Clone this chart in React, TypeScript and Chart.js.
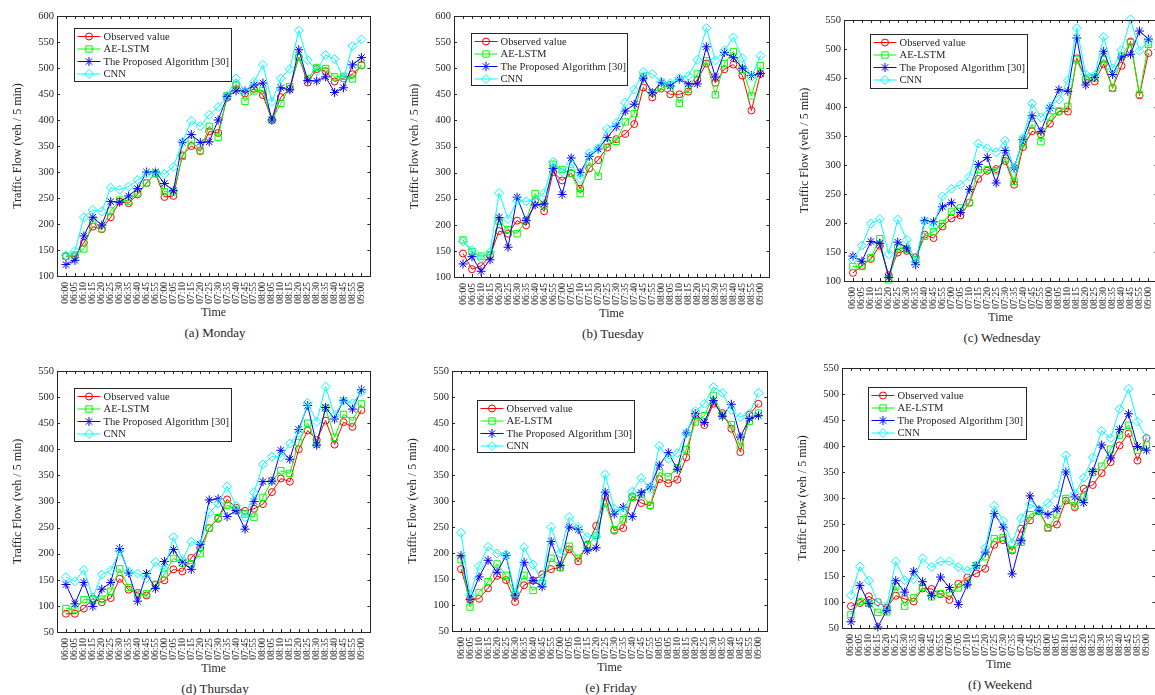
import React, { useEffect, useRef } from 'react';
import { Chart, registerables } from 'chart.js';

Chart.register(...registerables);

// ---------------- data ----------------
const seriesNames = ['Observed value', 'AE-LSTM', 'The Proposed Algorithm [30]', 'CNN'];

const timeLabels = ['06:00','06:05','06:10','06:15','06:20','06:25','06:30','06:35','06:40','06:45','06:55','07:00','07:05','07:10','07:15','07:20','07:25','07:30','07:35','07:40','07:45','07:55','08:00','08:05','08:10','08:15','08:20','08:25','08:30','08:35','08:40','08:45','08:55','09:00'];
const timeLabelsFriday = ['06:00','06:05','06:10','06:15','06:20','06:25','06:30','06:35','06:40','06:45','06:55','07:00','07:05','07:10','07:15','07:20','07:25','07:30','07:35','07:40','07:45','07:55','08:05','08:05','08:10','08:15','08:20','08:25','08:30','08:35','08:40','08:45','08:55','09:00'];

const mondayObserved = [138,138,164,195,190,213,243,240,257,279,297,252,254,332,350,340,378,375,443,468,451,460,448,400,444,460,521,472,498,494,474,480,488,505];
const mondayAE = [138,140,152,207,191,225,246,244,260,279,297,262,262,330,360,341,388,367,447,467,436,456,457,400,432,464,520,480,501,499,483,484,479,506];
const mondayProposed = [122,130,177,213,198,243,242,254,268,300,300,278,264,357,372,357,358,400,445,456,456,467,471,400,462,458,535,476,475,483,453,462,506,520];
const mondayCNN = [140,148,213,227,224,270,266,272,285,297,298,296,310,358,398,388,410,425,446,480,455,473,506,435,480,498,572,515,494,525,517,480,542,555];

const tuesdayObserved = [145,115,121,141,188,183,208,199,245,226,301,285,299,269,308,324,348,364,374,393,463,444,461,450,450,455,478,509,472,498,507,486,419,489];
const tuesdayAE = [171,148,140,143,207,191,183,208,260,238,316,306,298,260,320,293,355,360,397,413,484,453,462,468,433,460,489,514,449,509,532,498,447,505];
const tuesdayProposed = [125,139,111,133,214,157,253,208,238,240,308,258,328,300,331,345,367,388,418,431,481,453,473,466,479,470,470,541,483,530,520,500,486,490];
const tuesdayCNN = [168,152,136,148,261,211,246,245,248,261,321,301,317,288,337,347,384,395,434,459,493,489,474,471,481,485,516,577,515,534,559,519,483,524];

const wednesdayObserved = [114,126,138,161,110,149,152,141,180,174,194,208,213,235,276,290,293,307,266,331,358,353,371,392,392,484,448,444,474,433,471,513,420,493];
const wednesdayAE = [125,125,140,173,102,157,155,137,177,185,199,220,226,235,292,292,290,311,272,337,370,340,383,393,401,481,446,450,482,432,488,511,422,508];
const wednesdayProposed = [143,134,168,165,106,167,157,128,204,202,228,235,218,258,301,313,269,325,295,344,385,358,398,430,427,519,438,451,496,456,486,491,531,517];
const wednesdayCNN = [137,161,199,207,146,206,171,133,204,193,246,259,266,280,337,329,322,342,293,347,406,382,401,413,446,536,456,455,521,466,498,551,497,513];

const thursdayObserved = [85,85,95,114,107,115,152,131,125,120,141,149,170,166,192,211,249,267,304,288,282,286,295,318,344,338,400,436,418,455,409,452,443,475];
const thursdayAE = [95,93,112,112,113,128,171,135,122,123,140,161,191,182,181,200,249,269,293,283,276,270,308,340,359,354,413,450,410,479,423,467,455,487];
const thursdayProposed = [141,104,145,99,132,145,210,163,109,162,133,185,208,183,170,218,303,305,271,283,247,300,338,339,398,381,438,484,408,480,458,494,477,514];
const thursdayCNN = [155,147,169,116,160,168,205,166,162,153,184,170,232,188,223,218,278,296,329,292,270,317,371,386,385,411,432,489,453,520,465,493,488,510];

const fridayObserved = [169,111,112,132,156,148,106,138,147,159,169,172,207,184,216,252,309,243,248,309,296,291,342,334,341,384,464,446,487,469,439,394,466,487];
const fridayAE = [187,96,124,145,179,157,120,157,128,141,190,172,213,190,214,234,296,245,264,307,313,292,355,347,364,399,452,464,503,465,447,405,453,469];
const fridayProposed = [195,111,154,186,163,195,118,182,147,135,222,176,250,245,204,210,317,275,288,270,316,327,369,393,361,431,468,451,493,463,486,423,459,464];
const fridayCNN = [239,119,175,212,199,197,123,211,178,145,250,199,269,250,231,231,351,285,280,318,344,323,406,381,392,430,473,487,519,508,475,461,468,508];

const weekendObserved = [92,98,111,100,89,112,106,101,126,125,115,104,135,147,155,164,210,219,199,241,257,276,243,249,295,282,318,325,348,369,401,424,372,415];
const weekendAE = [76,101,98,80,81,130,92,108,128,110,116,118,127,137,170,187,222,224,201,215,268,274,242,268,299,285,302,349,361,394,421,440,392,402];
const weekendProposed = [62,132,97,52,84,141,119,159,139,112,148,128,95,133,170,196,270,244,154,218,304,276,268,279,350,302,291,351,402,377,432,462,399,392];
const weekendCNN = [113,168,141,99,92,178,142,144,184,167,178,178,167,160,170,204,285,256,213,261,288,278,290,309,382,308,339,378,429,415,471,510,447,416];

const yTickStep = 50;

// ---------------- styles / layout ----------------
const FONT = '"Liberation Serif", "Times New Roman", serif';
const TEXT = '#262626';
const seriesColors = ['#ff0000', '#00ff00', '#0000ff', '#00ffff'];
const seriesMarkers = ['circle', 'rect', 'star', 'rectRot'];
const markerRadius = [3.5, 4.5, 4.5, 4.5];

const Y_AXIS_W = 57;
const X_AXIS_H = 44;
const PAD_T = 10;
const PAD_R = 6;

type PanelDef = {
  caption: string;
  labels: string[];
  series: number[][];
  yMin: number;
  yMax: number;
  plot: { l: number; t: number; r: number; b: number };
  legend: { dx: number; dy: number; w: number; h: number };
};

const panels: PanelDef[] = [
  { caption: '(a) Monday', labels: timeLabels, series: [mondayObserved, mondayAE, mondayProposed, mondayCNN], yMin: 100, yMax: 600,
    plot: { l: 57, t: 16, r: 373, b: 276 }, legend: { dx: 17, dy: 12, w: 157, h: 53 } },
  { caption: '(b) Tuesday', labels: timeLabels, series: [tuesdayObserved, tuesdayAE, tuesdayProposed, tuesdayCNN], yMin: 100, yMax: 600,
    plot: { l: 454, t: 16, r: 772, b: 277 }, legend: { dx: 17, dy: 17, w: 156, h: 52 } },
  { caption: '(c) Wednesday', labels: timeLabels, series: [wednesdayObserved, wednesdayAE, wednesdayProposed, wednesdayCNN], yMin: 100, yMax: 550,
    plot: { l: 844, t: 20, r: 1160, b: 281 }, legend: { dx: 26, dy: 14, w: 157, h: 54 } },
  { caption: '(d) Thursday', labels: timeLabels, series: [thursdayObserved, thursdayAE, thursdayProposed, thursdayCNN], yMin: 50, yMax: 550,
    plot: { l: 57, t: 371, r: 373, b: 632 }, legend: { dx: 17, dy: 17, w: 157, h: 53 } },
  { caption: '(e) Friday', labels: timeLabelsFriday, series: [fridayObserved, fridayAE, fridayProposed, fridayCNN], yMin: 50, yMax: 550,
    plot: { l: 452, t: 371, r: 770, b: 631 }, legend: { dx: 25, dy: 29, w: 157, h: 52 } },
  { caption: '(f) Weekend', labels: timeLabels, series: [weekendObserved, weekendAE, weekendProposed, weekendCNN], yMin: 50, yMax: 550,
    plot: { l: 842, t: 368, r: 1158, b: 628 }, legend: { dx: 26, dy: 19, w: 158, h: 52 } },
];

function drawMarker(ctx: CanvasRenderingContext2D, style: string, x: number, y: number, r: number) {
  ctx.beginPath();
  if (style === 'circle') {
    ctx.arc(x, y, r, 0, Math.PI * 2);
  } else if (style === 'rect') {
    const s = r * Math.SQRT1_2;
    ctx.rect(x - s, y - s, 2 * s, 2 * s);
  } else if (style === 'rectRot') {
    ctx.moveTo(x, y - r);
    ctx.lineTo(x + r, y);
    ctx.lineTo(x, y + r);
    ctx.lineTo(x - r, y);
    ctx.closePath();
  } else if (style === 'star') {
    for (let k = 0; k < 4; k++) {
      const a = (k * Math.PI) / 4;
      ctx.moveTo(x - Math.cos(a) * r, y - Math.sin(a) * r);
      ctx.lineTo(x + Math.cos(a) * r, y + Math.sin(a) * r);
    }
  }
  ctx.stroke();
}

function makeFramePlugin(p: PanelDef) {
  return {
    id: 'frameLegend',
    afterDraw(chart: any) {
      const ctx: CanvasRenderingContext2D = chart.ctx;
      const { left, right, top, bottom } = chart.chartArea;
      const xs = chart.scales.x;
      const ys = chart.scales.y;
      ctx.save();
      ctx.strokeStyle = TEXT;
      ctx.lineWidth = 1;
      ctx.strokeRect(Math.round(left) + 0.5, Math.round(top) + 0.5, Math.round(right - left), Math.round(bottom - top));
      ctx.beginPath();
      const tl = 3;
      p.labels.forEach((_, i) => {
        const px = Math.round(xs.getPixelForValue(i + 1)) + 0.5;
        ctx.moveTo(px, bottom);
        ctx.lineTo(px, bottom - tl);
        ctx.moveTo(px, top);
        ctx.lineTo(px, top + tl);
      });
      for (let v = p.yMin; v <= p.yMax; v += yTickStep) {
        const py = Math.round(ys.getPixelForValue(v)) + 0.5;
        ctx.moveTo(left, py);
        ctx.lineTo(left + tl, py);
        ctx.moveTo(right, py);
        ctx.lineTo(right - tl, py);
      }
      ctx.stroke();

      // legend
      const lx = Math.round(left + p.legend.dx) + 0.5;
      const ly = Math.round(top + p.legend.dy) + 0.5;
      ctx.fillStyle = '#ffffff';
      ctx.fillRect(lx, ly, p.legend.w, p.legend.h);
      ctx.strokeStyle = TEXT;
      ctx.strokeRect(lx, ly, p.legend.w, p.legend.h);
      ctx.font = `10.6px ${FONT}`;
      ctx.textBaseline = 'middle';
      ctx.textAlign = 'left';
      seriesNames.forEach((name, k) => {
        const ry = ly + 8 + k * 12.5;
        ctx.strokeStyle = seriesColors[k];
        ctx.lineWidth = 1;
        ctx.beginPath();
        ctx.moveTo(lx + 3, ry);
        ctx.lineTo(lx + 26, ry);
        ctx.stroke();
        drawMarker(ctx, seriesMarkers[k], lx + 14.5, ry, markerRadius[k]);
        ctx.fillStyle = TEXT;
        ctx.fillText(name, lx + 29, ry + 0.5);
      });
      ctx.restore();
    },
  };
}

function Panel({ p }: { p: PanelDef }) {
  const ref = useRef<HTMLCanvasElement | null>(null);
  const plotW = p.plot.r - p.plot.l;
  const plotH = p.plot.b - p.plot.t;
  const cw = Y_AXIS_W + plotW + PAD_R;
  const ch = PAD_T + plotH + X_AXIS_H;
  const cx = p.plot.l - Y_AXIS_W;
  const cy = p.plot.t - PAD_T;

  useEffect(() => {
    if (!ref.current) return;
    const chart = new Chart(ref.current, {
      type: 'line',
      data: {
        datasets: p.series.map((vals, k) => ({
          label: seriesNames[k],
          data: vals.map((v, i) => ({ x: i + 1, y: v })),
          borderColor: seriesColors[k],
          backgroundColor: 'rgba(0,0,0,0)',
          pointBorderColor: seriesColors[k],
          pointBackgroundColor: 'rgba(0,0,0,0)',
          pointStyle: seriesMarkers[k] as any,
          pointRadius: markerRadius[k],
          pointBorderWidth: 1,
          borderWidth: 1,
          tension: 0,
          fill: false,
          clip: false as any,
          order: 3 - k,
        })),
      },
      options: {
        responsive: false,
        animation: false,
        devicePixelRatio: 1,
        events: [],
        layout: { padding: { left: 0, top: PAD_T, right: PAD_R, bottom: 0 } },
        plugins: { legend: { display: false }, tooltip: { enabled: false } },
        scales: {
          x: {
            type: 'linear',
            min: 0,
            max: p.labels.length + 1,
            grid: { display: false, drawTicks: false },
            border: { display: false },
            afterBuildTicks: (s: any) => {
              s.ticks = p.labels.map((_, i) => ({ value: i + 1 }));
            },
            afterFit: (s: any) => {
              s.height = X_AXIS_H;
            },
            ticks: {
              autoSkip: false,
              maxRotation: 90,
              minRotation: 90,
              padding: 6,
              color: TEXT,
              font: { family: FONT, size: 9.5 },
              callback: (v: any) => p.labels[Math.round(Number(v)) - 1] ?? '',
            },
            title: {
              display: true,
              text: 'Time',
              color: TEXT,
              font: { family: FONT, size: 12 },
              padding: { top: 0, bottom: 0 },
            },
          },
          y: {
            type: 'linear',
            min: p.yMin,
            max: p.yMax,
            grid: { display: false, drawTicks: false },
            border: { display: false },
            afterFit: (s: any) => {
              s.width = Y_AXIS_W;
            },
            ticks: {
              stepSize: yTickStep,
              padding: 3,
              color: TEXT,
              font: { family: FONT, size: 10.5 },
            },
            title: {
              display: true,
              text: 'Traffic Flow (veh / 5 min)',
              color: TEXT,
              font: { family: FONT, size: 12 },
              padding: { top: 11, bottom: 0 },
            },
          },
        },
      } as any,
      plugins: [makeFramePlugin(p)],
    });
    return () => chart.destroy();
  }, []);

  return (
    <>
      <canvas
        ref={ref}
        width={cw}
        height={ch}
        style={{ position: 'absolute', left: cx, top: cy, width: cw, height: ch }}
      />
      <div
        style={{
          position: 'absolute',
          left: p.plot.l,
          width: plotW,
          top: p.plot.b + 57 - 9,
          height: 18,
          lineHeight: '18px',
          textAlign: 'center',
          fontFamily: FONT,
          fontSize: 13,
          color: TEXT,
          whiteSpace: 'nowrap',
        }}
      >
        {p.caption}
      </div>
    </>
  );
}

export default function App() {
  return (
    <div
      style={{
        position: 'fixed',
        left: 0,
        top: 0,
        width: 1155,
        height: 695,
        overflow: 'hidden',
        background: '#ffffff',
      }}
    >
      {panels.map((p) => (
        <Panel key={p.caption} p={p} />
      ))}
    </div>
  );
}
